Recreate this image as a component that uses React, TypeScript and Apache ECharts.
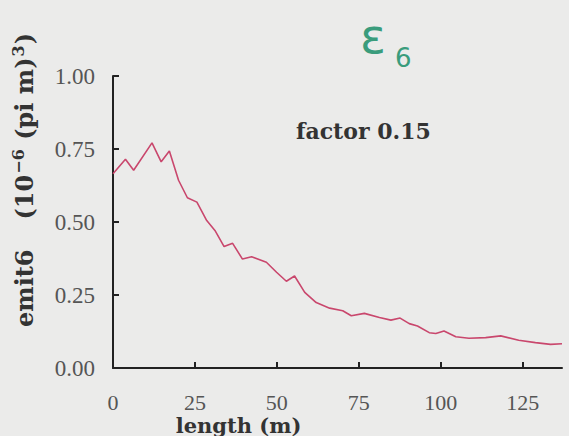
import React, { useEffect, useRef } from "react";
import * as echarts from "echarts";

const lengthM = [0, 3.8, 6.3, 11.9, 14.7, 17.2, 20, 22.7, 25.6, 28.6, 31.1, 33.9, 36.5, 39.5, 42.3, 46.8, 49.9, 52.9, 55.4, 58.5, 62, 66.1, 70.1, 72.7, 76.7, 81.3, 84.8, 87.6, 90.4, 92.9, 96.5, 98.5, 101, 104.6, 108.6, 113.7, 118.3, 123.8, 128.9, 133.5, 137];
const emit6 = [0.665, 0.715, 0.677, 0.771, 0.706, 0.743, 0.643, 0.583, 0.568, 0.505, 0.471, 0.416, 0.427, 0.373, 0.381, 0.362, 0.328, 0.297, 0.315, 0.259, 0.224, 0.205, 0.196, 0.179, 0.187, 0.173, 0.164, 0.171, 0.152, 0.144, 0.121, 0.118, 0.127, 0.107, 0.102, 0.104, 0.110, 0.095, 0.087, 0.081, 0.083];
const xTicks = [0, 25, 50, 75, 100, 125];
const yTicks = [0, 0.25, 0.5, 0.75, 1.0];

const SERIF = "'Liberation Serif', 'DejaVu Serif', serif";
const BOLD = "'DejaVu Serif', serif";

export default function App() {
  const ref = useRef<HTMLDivElement>(null);
  useEffect(() => {
    if (!ref.current) return;
    const chart = echarts.init(ref.current, null, { renderer: "svg" });
    const axisLine = { lineStyle: { color: "#222", width: 2 } };
    const axisTick = { inside: true, length: 6, lineStyle: { color: "#222", width: 2 } };
    chart.setOption({
      animation: false,
      backgroundColor: "#ebebea",
      grid: { left: 113, right: 7, top: 76, bottom: 68, containLabel: false, outerBoundsMode: "none" },
      xAxis: {
        type: "value",
        min: 0,
        max: 137,
        interval: 25,
        splitLine: { show: false },
        axisLine,
        axisTick: { ...axisTick, customValues: xTicks },
        axisLabel: {
          customValues: xTicks,
          margin: 23,
          fontFamily: SERIF,
          fontSize: 22,
          lineHeight: 22,
          color: "#555",
        },
        name: "length (m)",
        nameLocation: "middle",
        nameGap: 47,
        nameMoveOverlap: false,
        nameTextStyle: {
          fontFamily: BOLD,
          fontWeight: "bold",
          fontSize: 21,
          lineHeight: 20,
          color: "#333",
          padding: [0, 198, 0, 0],
        },
      },
      yAxis: {
        type: "value",
        min: 0,
        max: 1,
        interval: 0.25,
        splitLine: { show: false },
        axisLine,
        axisTick: { ...axisTick, customValues: yTicks },
        axisLabel: {
          customValues: yTicks,
          margin: 18,
          fontFamily: SERIF,
          fontSize: 23,
          color: "#555",
          formatter: (v: number) => v.toFixed(2),
        },
        name: "{b|emit6}{g| }{b|(10}{s|−6}{b| (pi m)}{s|3}{b|)}",
        nameLocation: "middle",
        nameRotate: 90,
        nameGap: 75,
        nameMoveOverlap: false,
        nameTextStyle: {
          padding: [0, 0, 0, 84],
          rich: {
            b: { fontFamily: BOLD, fontWeight: "bold", fontSize: 24, color: "#333", lineHeight: 28 },
            g: { fontSize: 22, width: 30 },
            s: { fontFamily: BOLD, fontWeight: "bold", fontSize: 16, color: "#333", verticalAlign: "top", lineHeight: 28, padding: [0, 1, 10, 1] },
          },
        },
      },
      graphic: [
        {
          type: "text",
          x: 296,
          y: 131,
          style: { text: "factor 0.15", fontFamily: BOLD, fontWeight: "bold", fontSize: 22, fill: "#333", verticalAlign: "middle" },
        },
        {
          type: "text",
          x: 360,
          y: 36,
          style: { text: "ε", fontFamily: "'DejaVu Sans', sans-serif", fontSize: 48, fill: "#3a9c7c", verticalAlign: "middle" },
        },
        {
          type: "text",
          x: 395,
          y: 58,
          style: { text: "6", fontFamily: "'DejaVu Sans', sans-serif", fontSize: 26, fill: "#3a9c7c", verticalAlign: "middle" },
        },
      ],
      series: [
        {
          type: "line",
          data: lengthM.map((x, i) => [x, emit6[i]]),
          showSymbol: false,
          lineStyle: { color: "#c9476d", width: 1.6 },
        },
      ],
    });
    return () => chart.dispose();
  }, []);
  return <div ref={ref} style={{ position: "fixed", left: 0, top: 0, width: 569, height: 436 }} />;
}
